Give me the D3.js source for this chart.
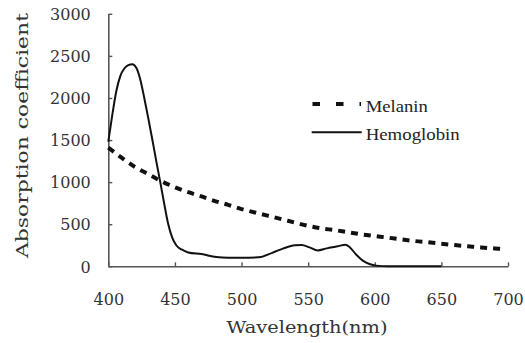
<!DOCTYPE html>
<html><head><meta charset="utf-8">
<script src="https://cdn.jsdelivr.net/npm/d3@7"></script>
<style>html,body{margin:0;padding:0;background:#fff;}svg{display:block;}</style>
</head><body>
<script>
// ---- data ----
const xTicks = [400, 450, 500, 550, 600, 650, 700];
const yTicks = [0, 500, 1000, 1500, 2000, 2500, 3000];
const hemoWl  = [400,403,406,409,412,415,418,421,424,427,430,433,436,439,442,445,448,451,455,460,470,481,490,500,513,523,531,540,545,551,557,564,572,578,581,586,591,596,601,610,650];
const hemoVal = [1480,1800,2080,2260,2350,2390,2400,2360,2220,2000,1760,1510,1250,1000,740,500,340,250,200,165,145,110,102,102,107,160,210,250,252,225,188,213,237,257,230,140,68,28,8,0,0];
const melWl  = [400,410,420,430,440,450,460,470,480,490,500,510,520,530,540,550,560,570,580,590,600,610,620,630,640,650,660,670,680,690,695];
const melVal = [1410,1290,1180,1095,1010,940,880,830,775,730,680,640,600,560,520,480,450,430,405,380,360,340,320,300,285,268,252,238,224,212,205];
const seriesNames = ["Melanin", "Hemoglobin"];
const xTitle = "Wavelength(nm)";
const yTitle = "Absorption coefficient";

const W = 525, H = 343;
const svg = d3.select("body").append("svg").attr("width", W).attr("height", H);
const x = d3.scaleLinear().domain([400, 700]).range([108.3, 508]);
const y = d3.scaleLinear().domain([0, 3000]).range([266.3, 13.8]);
const tickFont = "'DejaVu Serif', serif";
const axisColor = "#555";
const fmt = d3.format("d");

// axes
const xa = svg.append("g").attr("transform", `translate(0,${y(0)})`)
  .call(d3.axisBottom(x).tickValues(xTicks).tickFormat(fmt).tickSizeInner(-4).tickSizeOuter(0).tickPadding(0));
xa.select(".domain").attr("stroke", axisColor).attr("stroke-width", 1.6);
xa.selectAll(".tick line").attr("stroke", axisColor).attr("stroke-width", 1.4);
xa.selectAll(".tick text").attr("font-family", tickFont).attr("font-size", 16).attr("fill", "#333")
  .attr("y", 38.5).attr("dy", 0);

const ya = svg.append("g").attr("transform", `translate(${x(400)},0)`)
  .call(d3.axisLeft(y).tickValues(yTicks).tickFormat(fmt).tickSizeInner(-4).tickSizeOuter(0).tickPadding(0));
ya.select(".domain").attr("stroke", axisColor).attr("stroke-width", 1.6);
ya.selectAll(".tick line").attr("stroke", axisColor).attr("stroke-width", 1.4);
ya.selectAll(".tick text").attr("font-family", tickFont).attr("font-size", 16).attr("fill", "#333")
  .attr("x", -17.5).attr("dy", "0.36em");

// titles
svg.append("text").attr("x", 307).attr("y", 333).attr("text-anchor", "middle")
  .attr("font-family", tickFont).attr("font-size", 16).attr("fill", "#333")
  .attr("textLength", 161).attr("lengthAdjust", "spacingAndGlyphs").text(xTitle);
svg.append("text").attr("transform", "translate(28,135.5) rotate(-90)").attr("text-anchor", "middle")
  .attr("font-family", tickFont).attr("font-size", 16).attr("fill", "#333")
  .attr("textLength", 245).attr("lengthAdjust", "spacingAndGlyphs").text(yTitle);

// lines
const mel = melWl.map((d, i) => [d, melVal[i]]);
const hemo = hemoWl.map((d, i) => [d, hemoVal[i]]);
const line = d3.line().x(d => x(d[0])).y(d => y(d[1])).curve(d3.curveMonotoneX);
svg.append("path").attr("d", line(hemo)).attr("fill", "none").attr("stroke", "#111").attr("stroke-width", 2);
svg.append("path").attr("d", line(mel)).attr("fill", "none").attr("stroke", "#111").attr("stroke-width", 4)
  .attr("stroke-dasharray", "7,6");

// legend
const leg = svg.append("g");
leg.append("line").attr("x1", 312.5).attr("x2", 361).attr("y1", 104).attr("y2", 104)
  .attr("stroke", "#111").attr("stroke-width", 4).attr("stroke-dasharray", "7.5,16");
leg.append("line").attr("x1", 311.7).attr("x2", 361.7).attr("y1", 132.3).attr("y2", 132.3)
  .attr("stroke", "#111").attr("stroke-width", 2);
leg.append("text").attr("x", 365.7).attr("y", 111.5).attr("font-family", "'Liberation Serif', serif")
  .attr("font-size", 17).attr("fill", "#222").attr("textLength", 62).attr("lengthAdjust", "spacingAndGlyphs").text(seriesNames[0]);
leg.append("text").attr("x", 365.7).attr("y", 139.5).attr("font-family", "'Liberation Serif', serif")
  .attr("font-size", 17).attr("fill", "#222").attr("textLength", 94).attr("lengthAdjust", "spacingAndGlyphs").text(seriesNames[1]);
</script>
</body></html>
